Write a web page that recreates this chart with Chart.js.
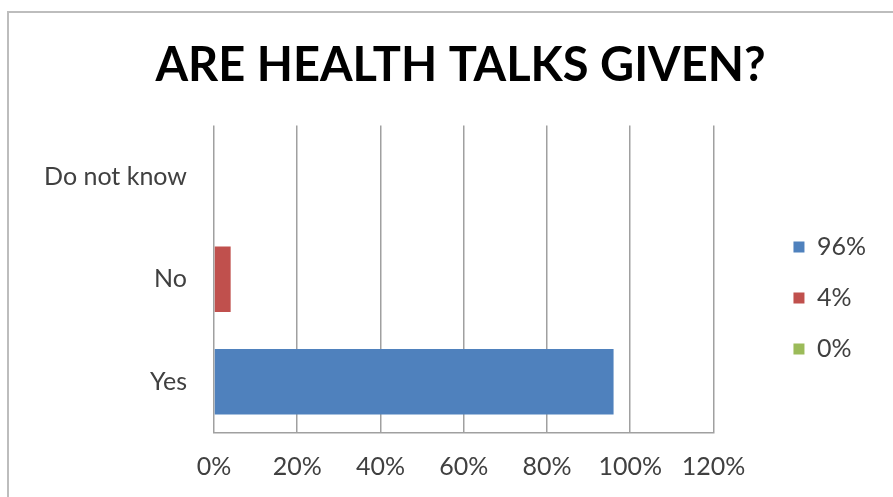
<!DOCTYPE html>
<html>
<head>
<meta charset="utf-8">
<script src="https://cdn.jsdelivr.net/npm/chart.js@4/dist/chart.umd.min.js"></script>
<style>
  body { margin: 0; overflow: hidden; background: #fff; }
  #frame {
    position: absolute;
    left: 7px;
    top: 11px;
    width: 920px;
    height: 510px;
    border-left: 2px solid #bdbdbd;
    border-top: 2px solid #bdbdbd;
  }
  #frame canvas { display: block; }
</style>
</head>
<body>
<div id="frame">
  <canvas id="health-talks-chart" width="906" height="486"></canvas>
</div>
<script>
let answers = ["Yes", "No", "Do not know"];
let answerShares = [96, 4, 0];
let answerColors = ["#4f81bd", "#c0504d", "#9bbb59"];
let axisTicks = [0, 20, 40, 60, 80, 100, 120];

let textColor = "#404040";
let gridColor = "#a0a0a0";
let labelFont = { family: "Lato", size: 25 };

// office-style placement: legend pushed away from the plot,
// title centred on the whole frame rather than the padded box
let boxNudge = {
  id: "boxNudge",
  afterLayout(chart) {
    let lg = chart.legend;
    lg.left += 54;
    lg.right += 54;
    lg.top += 42;
    lg.bottom += 42;
    let tb = chart.titleBlock;
    tb.left += 45;
    tb.right += 45;
  },
};

let healthTalksChart = new Chart("health-talks-chart", {
  type: "bar",
  data: {
    labels: answers,
    datasets: [
      {
        label: "",
        data: answerShares,
        backgroundColor: answerColors,
        borderWidth: 0,
        barPercentage: 0.64,
        categoryPercentage: 1,
      },
    ],
  },
  plugins: [boxNudge],
  options: {
    responsive: false,
    animation: false,
    indexAxis: "y",
    layout: {
      padding: { left: 0, right: 93, top: 0, bottom: 0 },
    },
    plugins: {
      title: {
        display: true,
        text: "ARE HEALTH TALKS GIVEN?",
        color: "#000",
        font: { family: "Lato", size: 47, weight: "bold" },
        padding: { top: 25, bottom: 31 },
      },
      legend: {
        display: true,
        position: "right",
        labels: {
          color: textColor,
          font: labelFont,
          boxWidth: 11,
          boxHeight: 11,
          padding: 26,
          generateLabels: function (chart) {
            return answerShares.map((v, i) => ({
              text: v + "%",
              fillStyle: answerColors[i],
              strokeStyle: answerColors[i],
              lineWidth: 0,
              fontColor: textColor,
              index: i,
            }));
          },
        },
      },
      tooltip: { enabled: false },
    },
    scales: {
      x: {
        type: "linear",
        min: axisTicks[0],
        max: axisTicks[axisTicks.length - 1],
        afterBuildTicks: function (scale) {
          scale.ticks = axisTicks.map((v) => ({ value: v }));
        },
        afterFit: function (scale) {
          scale.height = 66;
        },
        ticks: {
          color: textColor,
          font: labelFont,
          padding: 19,
          maxRotation: 0,
          callback: function (value) {
            return value + "%";
          },
        },
        grid: {
          color: gridColor,
          lineWidth: 1.5,
          drawTicks: false,
        },
        border: { color: gridColor, width: 1.5 },
      },
      y: {
        reverse: true,
        afterFit: function (scale) {
          scale.width = 205;
        },
        ticks: {
          color: textColor,
          font: labelFont,
          padding: 27,
        },
        grid: { display: false, drawTicks: false },
        border: { display: false },
      },
    },
  },
});
</script>
</body>
</html>
